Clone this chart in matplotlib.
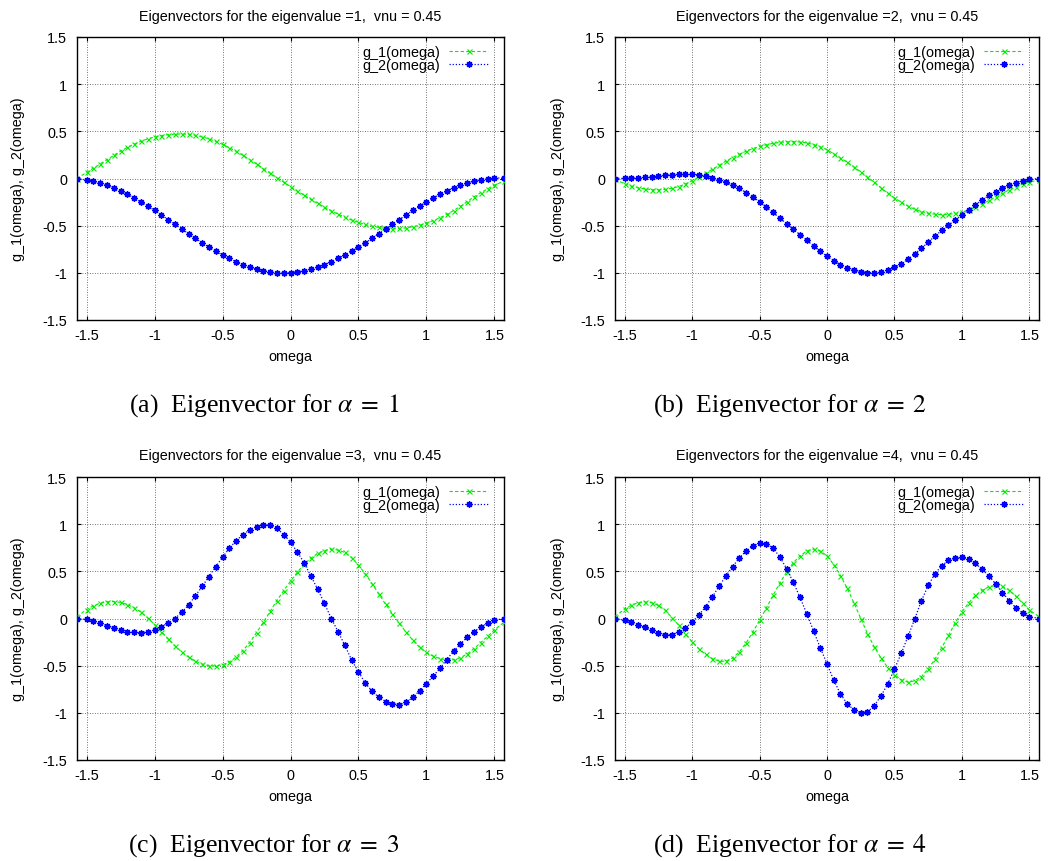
import numpy as np
import matplotlib
matplotlib.use('Agg')
import matplotlib.pyplot as plt
from matplotlib.ticker import FormatStrFormatter

plt.rcParams['font.family'] = ['Liberation Sans', 'DejaVu Sans']
plt.rcParams['axes.unicode_minus'] = False
plt.rcParams['mathtext.fontset'] = 'stix'

# ---------------- data ----------------
omega = [-1.5708, -1.50, -1.45, -1.40, -1.35, -1.30, -1.25, -1.20, -1.15, -1.10, -1.05,
         -1.00, -0.95, -0.90, -0.85, -0.80, -0.75, -0.70, -0.65, -0.60, -0.55,
         -0.50, -0.45, -0.40, -0.35, -0.30, -0.25, -0.20, -0.15, -0.10, -0.05,
         0.00, 0.05, 0.10, 0.15, 0.20, 0.25, 0.30, 0.35, 0.40, 0.45,
         0.50, 0.55, 0.60, 0.65, 0.70, 0.75, 0.80, 0.85, 0.90, 0.95,
         1.00, 1.05, 1.10, 1.15, 1.20, 1.25, 1.30, 1.35, 1.40, 1.45, 1.50, 1.5708]

# eigenvalue 1
g1_a = [0.00, 0.065, 0.11, 0.155, 0.20, 0.245, 0.29, 0.33, 0.365, 0.395, 0.42,
        0.44, 0.455, 0.465, 0.47, 0.472, 0.468, 0.458, 0.442, 0.42, 0.393,
        0.362, 0.327, 0.288, 0.245, 0.20, 0.153, 0.105, 0.058, 0.01, -0.038,
        -0.085, -0.132, -0.178, -0.222, -0.265, -0.305, -0.343, -0.378, -0.41, -0.44,
        -0.465, -0.487, -0.505, -0.519, -0.528, -0.532, -0.53, -0.524, -0.512, -0.495,
        -0.473, -0.447, -0.416, -0.38, -0.34, -0.295, -0.245, -0.195, -0.15, -0.11, -0.07, -0.03]
g2_a = [0.0, -0.015, -0.029, -0.048, -0.072, -0.099, -0.131, -0.167, -0.206, -0.248, -0.292,
        -0.338, -0.386, -0.436, -0.485, -0.535, -0.585, -0.634, -0.681, -0.727, -0.770,
        -0.811, -0.848, -0.883, -0.913, -0.939, -0.961, -0.978, -0.990, -0.998, -1.0,
        -0.998, -0.990, -0.978, -0.961, -0.939, -0.913, -0.883, -0.848, -0.811, -0.770,
        -0.727, -0.681, -0.634, -0.585, -0.535, -0.485, -0.436, -0.386, -0.338, -0.292,
        -0.248, -0.206, -0.167, -0.131, -0.099, -0.072, -0.048, -0.029, -0.013, 0.0, 0.006, 0.004]

# eigenvalue 2
g1_b = [-0.01, -0.055, -0.08, -0.098, -0.11, -0.117, -0.12, -0.116, -0.104, -0.085, -0.058,
        -0.025, 0.015, 0.056, 0.097, 0.138, 0.185, 0.222, 0.257, 0.289, 0.317,
        0.34, 0.358, 0.373, 0.383, 0.389, 0.391, 0.387, 0.378, 0.36, 0.336,
        0.305, 0.262, 0.218, 0.172, 0.122, 0.07, 0.015, -0.04, -0.098, -0.155,
        -0.207, -0.252, -0.293, -0.326, -0.352, -0.369, -0.378, -0.382, -0.38, -0.371,
        -0.357, -0.333, -0.304, -0.27, -0.233, -0.195, -0.157, -0.12, -0.087, -0.058, -0.036, -0.02]
g2_b = [0.0, 0.001, 0.003, 0.006, 0.011, 0.018, 0.026, 0.034, 0.04, 0.045, 0.047,
        0.045, 0.038, 0.026, 0.009, -0.013, -0.04, -0.07, -0.104, -0.15, -0.195,
        -0.245, -0.30, -0.36, -0.42, -0.478, -0.537, -0.595, -0.655, -0.714, -0.77,
        -0.825, -0.872, -0.912, -0.945, -0.97, -0.988, -0.998, -0.998, -0.988, -0.97,
        -0.943, -0.905, -0.855, -0.80, -0.74, -0.675, -0.61, -0.55, -0.495, -0.44,
        -0.39, -0.333, -0.278, -0.225, -0.18, -0.14, -0.104, -0.07, -0.043, -0.024, -0.01, 0.0]

# eigenvalue 3
g1_c = [0.02, 0.095, 0.135, 0.163, 0.178, 0.18, 0.17, 0.148, 0.114, 0.068, 0.005,
        -0.065, -0.14, -0.215, -0.29, -0.355, -0.41, -0.452, -0.483, -0.50, -0.503,
        -0.49, -0.46, -0.41, -0.34, -0.255, -0.15, -0.04, 0.075, 0.19, 0.295,
        0.395, 0.49, 0.575, 0.64, 0.69, 0.72, 0.735, 0.725, 0.70, 0.645,
        0.565, 0.475, 0.37, 0.26, 0.15, 0.05, -0.05, -0.145, -0.23, -0.305,
        -0.36, -0.40, -0.425, -0.44, -0.437, -0.415, -0.375, -0.32, -0.255, -0.19, -0.12, -0.04]
g2_c = [0.0, -0.01, -0.025, -0.05, -0.075, -0.10, -0.122, -0.138, -0.148, -0.15, -0.142,
        -0.12, -0.087, -0.047, 0.0, 0.065, 0.145, 0.24, 0.34, 0.445, 0.55,
        0.65, 0.745, 0.825, 0.89, 0.94, 0.975, 0.995, 0.99, 0.955, 0.89,
        0.81, 0.705, 0.59, 0.45, 0.31, 0.16, 0.0, -0.14, -0.285, -0.44,
        -0.565, -0.685, -0.77, -0.835, -0.88, -0.905, -0.912, -0.89, -0.835, -0.765,
        -0.69, -0.61, -0.527, -0.435, -0.345, -0.27, -0.198, -0.138, -0.09, -0.05, -0.02, 0.0]

# eigenvalue 4
g1_d = [0.02, 0.10, 0.14, 0.167, 0.177, 0.168, 0.14, 0.09, 0.01, -0.07, -0.16,
        -0.245, -0.32, -0.38, -0.425, -0.452, -0.455, -0.42, -0.355, -0.26, -0.145,
        -0.02, 0.11, 0.245, 0.375, 0.49, 0.59, 0.665, 0.715, 0.735, 0.715,
        0.665, 0.57, 0.455, 0.32, 0.165, 0.0, -0.16, -0.30, -0.42, -0.52,
        -0.595, -0.65, -0.675, -0.66, -0.615, -0.535, -0.43, -0.31, -0.18, -0.045,
        0.07, 0.165, 0.245, 0.30, 0.337, 0.35, 0.34, 0.30, 0.235, 0.16, 0.09, 0.02]
g2_d = [0.0, -0.018, -0.04, -0.065, -0.095, -0.125, -0.153, -0.17, -0.17, -0.145, -0.10,
        -0.04, 0.035, 0.125, 0.23, 0.34, 0.45, 0.55, 0.64, 0.715, 0.77,
        0.80, 0.795, 0.745, 0.655, 0.53, 0.385, 0.225, 0.05, -0.13, -0.31,
        -0.48, -0.655, -0.80, -0.905, -0.97, -0.998, -0.99, -0.925, -0.82, -0.695,
        -0.535, -0.37, -0.19, -0.005, 0.19, 0.35, 0.475, 0.56, 0.615, 0.64,
        0.647, 0.628, 0.585, 0.52, 0.45, 0.365, 0.275, 0.19, 0.115, 0.055, 0.02, 0.0]

eigenvalues = [1, 2, 3, 4]
vnu = 0.45
letters = ['a', 'b', 'c', 'd']
series_g1 = [g1_a, g1_b, g1_c, g1_d]
series_g2 = [g2_a, g2_b, g2_c, g2_d]
x_ticks = [-1.5, -1.0, -0.5, 0.0, 0.5, 1.0, 1.5]
y_ticks = [-1.5, -1.0, -0.5, 0.0, 0.5, 1.0, 1.5]

# ---------------- layout ----------------
W, H = 1052, 862
fig = plt.figure(figsize=(W / 100, H / 100), dpi=100)

# (left, top, right, bottom) in pixels
boxes = [(77, 38, 504, 321), (615, 38, 1039, 321),
         (77, 478, 504, 761), (615, 478, 1039, 761)]
caption_pos = [(264, 412), (790, 412), (264, 852), (790, 852)]
FS = 10.4

for i in range(4):
    l, t, r, b = boxes[i]
    ax = fig.add_axes([l / W, (H - b) / H, (r - l) / W, (b - t) / H])
    ax.plot(omega, series_g1[i], color='#00ee00', ls=(0, (3, 2)), lw=0.8,
            marker='x', ms=3.6, mew=0.8, label='g_1(omega)', zorder=3)
    ax.plot(omega, series_g2[i], color='#0000ff', ls=(0, (1, 1.5)), lw=0.9,
            marker=(8, 2, 0), ms=4.6, mew=1.0, label='g_2(omega)', zorder=4)
    ax.set_xlim(-1.5708, 1.5708)
    ax.set_ylim(-1.5, 1.5)
    ax.set_xticks(x_ticks)
    ax.set_yticks(y_ticks)
    ax.xaxis.set_major_formatter(FormatStrFormatter('%g'))
    ax.yaxis.set_major_formatter(FormatStrFormatter('%g'))
    ax.tick_params(direction='in', length=3, width=0.8, top=True, right=True,
                   labelsize=FS, pad=6)
    ax.tick_params(axis='y', pad=7)
    ax.grid(True, ls=(0, (1, 2)), color='#444444', lw=0.6)
    ax.set_axisbelow(True)
    for s in ax.spines.values():
        s.set_linewidth(1.0)
        s.set_color('black')
    ax.set_title(f"Eigenvectors for the eigenvalue ={eigenvalues[i]},  vnu = {vnu}",
                 fontsize=FS, pad=12.6, y=1.0)
    ax.set_xlabel('omega', fontsize=FS)
    ax.set_ylabel('g_1(omega), g_2(omega)', fontsize=FS)
    ax.xaxis.set_label_coords(0.5, -29 / (b - t))
    ylab_right = l - 52 if i % 2 == 0 else l - 50
    ax.yaxis.set_label_coords((ylab_right - l) / (r - l), 0.5)
    ax.legend(loc='upper right', bbox_to_anchor=((488 - 77) / 427, 0.972),
              frameon=False, fontsize=FS, markerfirst=False, handlelength=2.7,
              handletextpad=0.6, labelspacing=-0.05, borderpad=0, borderaxespad=0)
    cx, cy = caption_pos[i]
    fig.text(cx / W, 1 - cy / H,
             f"({letters[i]})  Eigenvector for $\\alpha\\;=\\;{eigenvalues[i]}$",
             ha='center', va='baseline', fontsize=18.5,
             family=['Liberation Serif', 'DejaVu Serif'])

fig.savefig('out.png', dpi=100)
